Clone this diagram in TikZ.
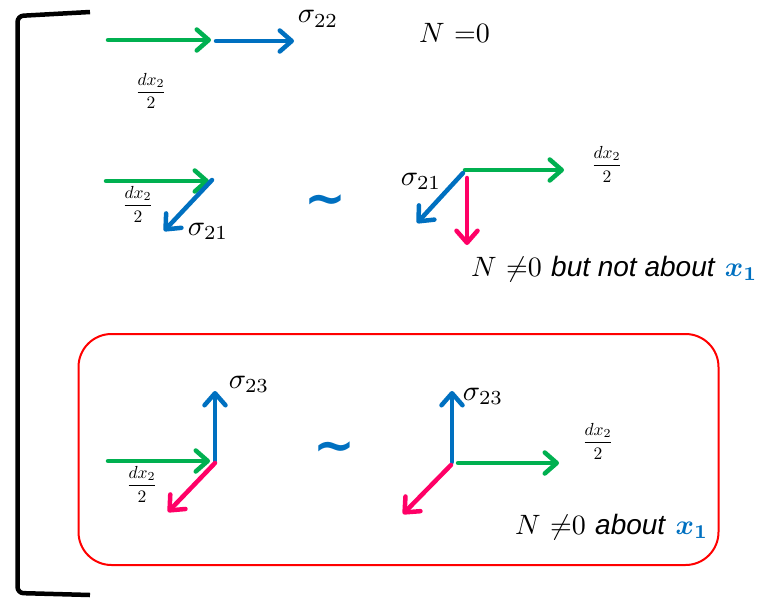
\documentclass[tikz,border=0pt]{standalone}
\usepackage{graphicx}
\usepackage{bm}
\usepackage{fontspec}
\setsansfont{Liberation Sans}
\newfontfamily\tildefont{DejaVu Sans}
\usetikzlibrary{arrows.meta}
\definecolor{cgreen}{HTML}{00B050}
\definecolor{cblue}{HTML}{0070C0}
\definecolor{cmag}{HTML}{FF0066}
\definecolor{cred}{HTML}{FF0000}
\newcommand{\halfdx}{\scalebox{1.75}{$\displaystyle\frac{dx_2}{2}$}}
\newcommand{\sgm}[1]{\scalebox{2.85}{$\sigma_{#1}$}}
\newcommand{\bigtxt}[1]{\scalebox{2.8}{\fontsize{10}{12}\selectfont #1}}
\newcommand{\tld}{{\tildefont\bfseries\fontsize{50}{50}\selectfont\symbol{"7E}}}
\begin{document}
\begin{tikzpicture}[x=1pt,y=-1pt,
  vec/.style={line width=4.5pt, line cap=round,
    -{Straight Barb[length=12pt,width=21pt,line cap=round,line join=round]}},
  sig/.style={inner sep=0pt},
  frc/.style={inner sep=0pt},
  lbl/.style={inner sep=0pt},
  tilde/.style={inner sep=0pt, text=cblue}]
\useasboundingbox (0,0) rectangle (768,597);
% bracket
\draw[line width=4.5pt, line cap=butt, rounded corners=6pt]
  (90,12) -- (17.5,16) -- (17.5,593) -- (90,595);
% red box
\draw[cred, line width=2pt, rounded corners=33pt] (78.5,334) rectangle (718.5,565);

% ---- row 1
\coordinate (g1s) at (108,40); \coordinate (g1e) at (211,40);
\coordinate (b1s) at (216,41); \coordinate (b1e) at (294,41);
\draw[vec,cgreen] (g1s) -- (g1e);
\draw[vec,cblue] (b1s) -- (b1e);
\node[sig] (s22) at (318,19) {\sgm{22}};
\node[frc] (f1) at (151,91) {\halfdx};
\node[lbl, anchor=west] (n0) at (419,33) {\bigtxt{$N$ =0}};

% ---- row 2 left
\coordinate (g2s) at (106,181); \coordinate (g2e) at (209,181);
\coordinate (b2s) at (212,180); \coordinate (b2e) at (164,231);
\draw[vec,cgreen] (g2s) -- (g2e);
\draw[vec,cblue] (b2s) -- (b2e);
\node[frc] (f2) at (138,204) {\halfdx};
\node[sig] (s21a) at (208,231) {\sgm{21}};
\node[tilde] (t1) at (325,205) {\tld};

% ---- row 2 right
\coordinate (g3s) at (465,170); \coordinate (g3e) at (564,170);
\coordinate (b3s) at (463,173); \coordinate (b3e) at (417,223);
\coordinate (m3s) at (467,178); \coordinate (m3e) at (467,245);
\draw[vec,cgreen] (g3s) -- (g3e);
\draw[vec,cblue] (b3s) -- (b3e);
\draw[vec,cmag] (m3s) -- (m3e);
\node[sig] (s21b) at (421,181) {\sgm{21}};
\node[frc] (f3) at (607,164) {\halfdx};
\node[lbl, anchor=west] (n1) at (471,269)
  {\bigtxt{$N$ ${\neq}0$ \textsf{\itshape but not about} \textcolor{cblue}{$\bm{x_1}$}}};

% ---- row 3 left
\coordinate (o4) at (215,461);
\coordinate (b4e) at (215,391);
\coordinate (g4s) at (108,461); \coordinate (g4e) at (210,461);
\coordinate (m4s) at (215,463); \coordinate (m4e) at (168,512);
\draw[vec,cblue] (o4) -- (b4e);
\draw[vec,cgreen] (g4s) -- (g4e);
\draw[vec,cmag] (m4s) -- (m4e);
\node[sig] (s23a) at (249,384) {\sgm{23}};
\node[frc] (f4) at (142,484) {\halfdx};
\node[tilde] (t2) at (334,452) {\tld};

% ---- row 3 right
\coordinate (o5) at (452,462); \coordinate (b5e) at (452,391);
\coordinate (g5s) at (458,463); \coordinate (g5e) at (559,463);
\coordinate (m5s) at (451,465); \coordinate (m5e) at (403,514);
\draw[vec,cblue] (o5) -- (b5e);
\draw[vec,cgreen] (g5s) -- (g5e);
\draw[vec,cmag] (m5s) -- (m5e);
\node[sig] (s23b) at (483,396) {\sgm{23}};
\node[frc] (f5) at (598,441) {\halfdx};
\node[lbl, anchor=west] (n2) at (515,527)
  {\bigtxt{$N$ ${\neq}0$ \textsf{\itshape about} \textcolor{cblue}{$\bm{x_1}$}}};
\end{tikzpicture}
\end{document}
